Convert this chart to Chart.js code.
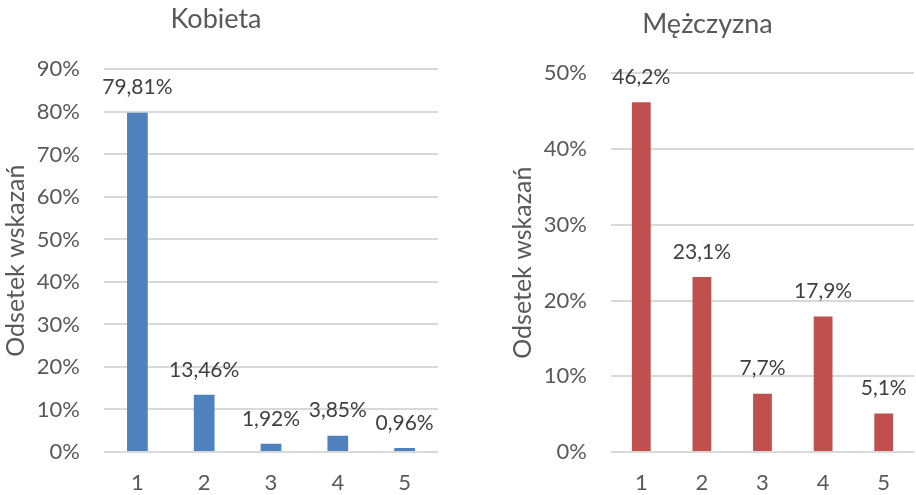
<!DOCTYPE html>
<html>
<head>
<meta charset="utf-8">
<script src="https://cdn.jsdelivr.net/npm/chart.js@4/dist/chart.umd.min.js"></script>
<style>
  html, body { margin: 0; padding: 0; background: #fff; }
  body { width: 916px; height: 495px; position: relative; overflow: hidden; }
  .panel { position: absolute; top: 0; height: 495px; }
  #wrapK { left: 0; width: 460px; }
  #wrapM { left: 507px; width: 409px; }
</style>
</head>
<body>
<div class="panel" id="wrapK"><canvas id="chartK"></canvas></div>
<div class="panel" id="wrapM"><canvas id="chartM"></canvas></div>
<script>
// Answer categories (1–5) and share of answers, in percent
const categories = ['1', '2', '3', '4', '5'];
const womenValues = [79.81, 13.46, 1.92, 3.85, 0.96];
const menValues = [46.2, 23.1, 7.7, 17.9, 5.1];
const womenTicks = [0, 10, 20, 30, 40, 50, 60, 70, 80, 90];
const menTicks = [0, 10, 20, 30, 40, 50];

const FONT = 'Lato, "Open Sans", sans-serif';
const TEXT = '#595959';
const GRID = '#d9d9d9';

Chart.defaults.font.family = FONT;
Chart.defaults.color = TEXT;

const plPercent = (v, digits) => v.toFixed(digits).replace('.', ',') + '%';

// value labels above each bar
const valueLabels = {
  id: 'valueLabels',
  afterDatasetsDraw(chart, args, opts) {
    const ctx = chart.ctx;
    const meta = chart.getDatasetMeta(0);
    const data = chart.data.datasets[0].data;
    ctx.save();
    ctx.font = `${opts.size}px ${FONT}`;
    ctx.fillStyle = '#404040';
    ctx.textAlign = 'center';
    ctx.textBaseline = 'middle';
    meta.data.forEach((bar, i) => {
      ctx.fillText(plPercent(data[i], opts.digits), bar.x, bar.y - opts.offset);
    });
    ctx.restore();
  }
};

// centre the chart title on a given horizontal shift from the plot centre
const titleShift = {
  id: 'titleShift',
  afterLayout(chart, args, opts) {
    const tb = chart.titleBlock;
    if (!tb) return;
    const ca = chart.chartArea;
    const cx = (ca.left + ca.right) / 2 + opts.dx;
    const w = tb.right - tb.left;
    tb.left = cx - w / 2;
    tb.right = cx + w / 2;
  }
};

function makeChart(id, title, values, ticks, color, cfg) {
  const maxV = ticks[ticks.length - 1];
  return new Chart(document.getElementById(id), {
    type: 'bar',
    data: {
      labels: categories,
      datasets: [{
        data: values,
        backgroundColor: color,
        borderWidth: 0,
        barPercentage: 0.31,
        categoryPercentage: 1
      }]
    },
    options: {
      responsive: true,
      maintainAspectRatio: false,
      animation: false,
      layout: { padding: { left: 0, right: cfg.padRight, top: 0, bottom: 0 } },
      plugins: {
        legend: { display: false },
        tooltip: { enabled: false },
        title: {
          display: true,
          text: title,
          color: TEXT,
          font: { size: 27, weight: 'normal', family: FONT },
          padding: { top: cfg.titleTop, bottom: cfg.titleBottom }
        },
        titleShift: { dx: -55 },
        valueLabels: { size: 21, digits: cfg.digits, offset: 25 }
      },
      scales: {
        x: {
          grid: { display: false },
          border: { display: false },
          ticks: { color: TEXT, font: { size: 22 }, padding: 10 },
          afterFit(scale) { scale.height = 43; }
        },
        y: {
          min: 0,
          max: maxV,
          afterBuildTicks(scale) { scale.ticks = ticks.map(v => ({ value: v })); },
          grid: { color: GRID, lineWidth: 2, drawTicks: false },
          border: { display: false },
          ticks: {
            color: TEXT,
            font: { size: 22 },
            padding: 24,
            callback: v => v + '%'
          },
          title: {
            display: true,
            text: 'Odsetek wskazań',
            color: TEXT,
            font: { size: 25 },
            padding: { top: 1, bottom: 0 }
          },
          afterFit(scale) { scale.width = 104; }
        }
      }
    },
    plugins: [valueLabels, titleShift]
  });
}

makeChart('chartK', 'Kobieta', womenValues, womenTicks, '#4f81bd',
  { digits: 2, padRight: 22, titleTop: 3, titleBottom: 34 });
makeChart('chartM', 'Mężczyzna', menValues, menTicks, '#c0504d',
  { digits: 1, padRight: 2, titleTop: 8, titleBottom: 33 });
</script>
</body>
</html>
